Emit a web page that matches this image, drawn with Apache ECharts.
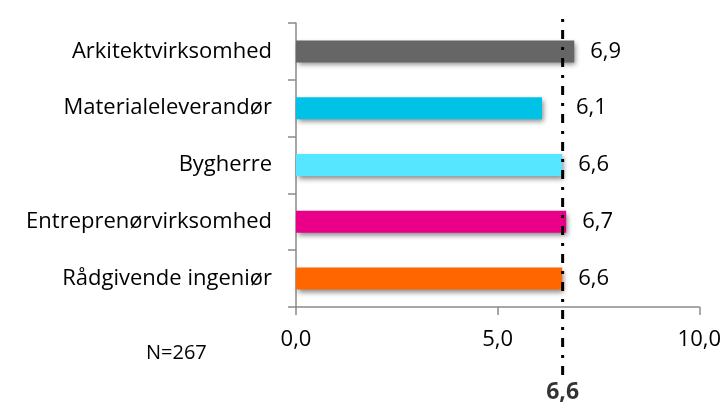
<!DOCTYPE html>
<html>
<head>
<meta charset="utf-8">
<script src="https://cdn.jsdelivr.net/npm/echarts@6/dist/echarts.min.js"></script>
<style>
  html, body { margin: 0; padding: 0; background: #fff; }
  #chart { width: 724px; height: 405px; }
</style>
</head>
<body>
<div id="chart"></div>
<script>
const categories = ["Arkitektvirksomhed", "Materialeleverandør", "Bygherre", "Entreprenørvirksomhed", "Rådgivende ingeniør"]
const values = [6.9, 6.1, 6.6, 6.7, 6.6]
const barColors = ["#666666", "#00c2e6", "#57e6ff", "#ea0088", "#ff6600"]
const labelGaps = [16, 34, 16, 16, 16] // 6,1 sits right of the dashed line
const average = 6.6
const sampleText = "N=267"

const fmt = (v) => v.toFixed(1).replace(".", ",")
const font = "'Open Sans', sans-serif"

const myChart = echarts.init(document.getElementById("chart"))

const option = {
  animation: false,
  grid: [
    { left: 296, right: 24, top: 23, bottom: 98 },
    { left: 296, right: 24, top: 12, bottom: 30 }
  ],
  xAxis: [
    {
      type: "value",
      gridIndex: 0,
      min: 0,
      max: 10,
      interval: 5,
      splitLine: { show: false },
      axisLine: { show: true, lineStyle: { color: "#8a8a8a", width: 1.5 } },
      axisTick: { show: true, length: 8, lineStyle: { color: "#8a8a8a", width: 1.5 } },
      axisLabel: { formatter: fmt, color: "#000", fontSize: 22, fontFamily: font, margin: 22 }
    },
    { type: "value", gridIndex: 1, min: 0, max: 10, show: false }
  ],
  yAxis: [
    {
      type: "category",
      gridIndex: 0,
      data: categories,
      inverse: true,
      axisLine: { show: true, lineStyle: { color: "#8a8a8a", width: 1.5 } },
      axisTick: { show: true, length: 8, lineStyle: { color: "#8a8a8a", width: 1.5 } },
      axisLabel: { color: "#000", fontSize: 22, fontFamily: font, margin: 24 }
    },
    { type: "value", gridIndex: 1, min: 0, max: 1, show: false }
  ],
  series: [
    {
      type: "bar",
      xAxisIndex: 0,
      yAxisIndex: 0,
      barWidth: 22,
      data: values.map((v, i) => ({
        value: v,
        itemStyle: { color: barColors[i] },
        label: { distance: labelGaps[i] }
      })),
      itemStyle: {
        shadowColor: "rgba(0,0,0,0.45)",
        shadowBlur: 5,
        shadowOffsetX: 2,
        shadowOffsetY: 3
      },
      label: {
        show: true,
        position: "right",
        formatter: (p) => fmt(p.value),
        color: "#000",
        fontSize: 22,
        fontFamily: font
      }
    },
    {
      type: "line",
      xAxisIndex: 1,
      yAxisIndex: 1,
      symbol: "none",
      lineStyle: { color: "#000", width: 3, type: [9, 8, 3, 8] },
      data: [[average, 0], [average, 1]],
      z: 5
    },
    {
      type: "scatter",
      xAxisIndex: 1,
      yAxisIndex: 1,
      symbolSize: 0,
      data: [[average, 0]],
      label: {
        show: true,
        position: "bottom",
        distance: 6,
        formatter: fmt(average),
        color: "#000",
        fontSize: 23,
        fontWeight: "bold",
        fontFamily: font
      }
    }
  ],
  graphic: [
    {
      type: "text",
      left: 146,
      top: 343,
      style: { text: sampleText, fill: "#000", fontSize: 20, fontFamily: font }
    }
  ]
}

myChart.setOption(option)
</script>
</body>
</html>
